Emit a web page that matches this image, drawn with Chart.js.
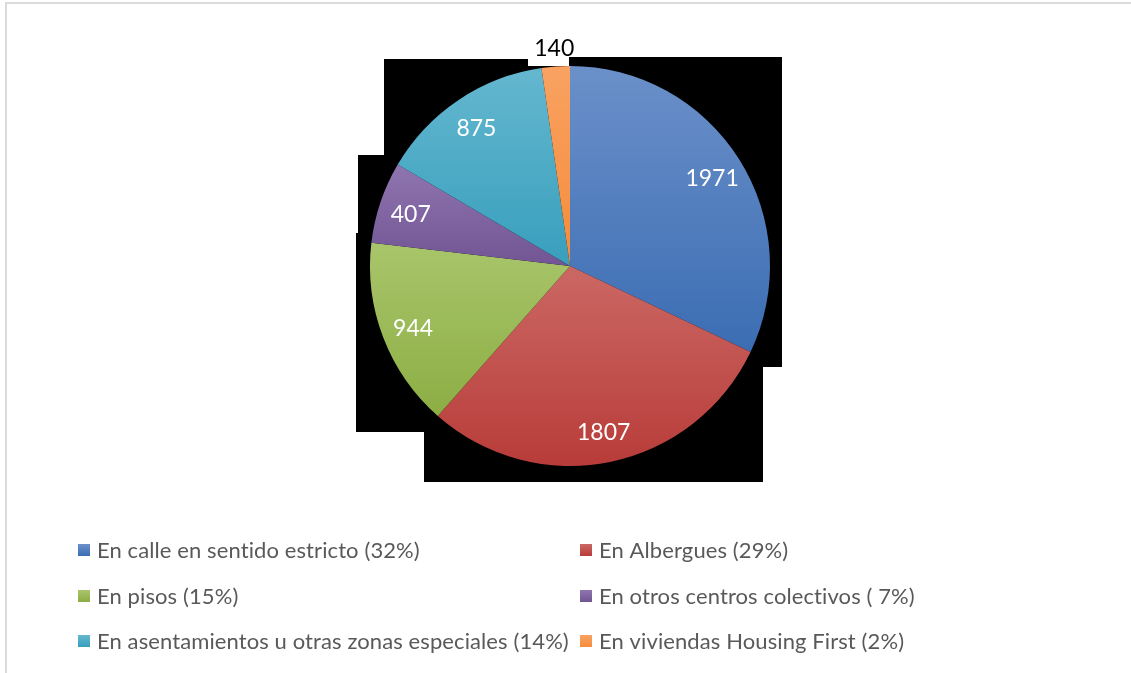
<!DOCTYPE html>
<html>
<head>
<meta charset="utf-8">
<style>
html,body{margin:0;padding:0;background:#fff;}
#wrap{position:relative;width:1131px;height:673px;overflow:hidden;}
#frame{position:absolute;left:5px;top:2px;right:-10px;bottom:-10px;border-left:2px solid #dadada;border-top:2px solid #dadada;}
canvas{position:absolute;left:0;top:0;}
</style>
<script src="https://cdn.jsdelivr.net/npm/chart.js@4.4.1/dist/chart.umd.min.js"></script>
</head>
<body>
<div id="wrap"><div id="frame"></div><canvas id="c" width="1131" height="673"></canvas></div>
<script>
// ---- data ----
const categories = [
  "En calle en sentido estricto (32%)",
  "En Albergues (29%)",
  "En pisos (15%)",
  "En otros centros colectivos ( 7%)",
  "En asentamientos u otras zonas especiales (14%)",
  "En viviendas Housing First (2%)"
];
const values = [1971, 1807, 944, 407, 875, 140];

// ---- styles ----
const colorsTop    = ["#6b90c9", "#cb6864", "#a9c56b", "#8f75b0", "#64b7cf", "#f9a262"];
const colorsBottom = ["#3b6db3", "#b83c39", "#8cae44", "#715594", "#389fbd", "#f58c3a"];
const FONT = "Lato, 'Open Sans', sans-serif";

function sliceGradient(ctx2d, cx, cy, r, a0, a1, i) {
  const ys = [cy, cy + r * Math.sin(a0), cy + r * Math.sin(a1)];
  const norm = a => ((a % (2*Math.PI)) + 2*Math.PI) % (2*Math.PI);
  const inRange = (a) => { const s = norm(a0), span = a1 - a0; return norm(a - s) <= span; };
  if (inRange(-Math.PI/2)) ys.push(cy - r);
  if (inRange(Math.PI/2)) ys.push(cy + r);
  const y0 = Math.min(...ys), y1 = Math.max(...ys);
  const g = ctx2d.createLinearGradient(0, y0, 0, y1);
  g.addColorStop(0, colorsTop[i]);
  g.addColorStop(1, colorsBottom[i]);
  return g;
}

const shadowPlugin = {
  id: 'shadow',
  beforeDatasetsDraw(chart) {
    const a = chart.getDatasetMeta(0).data[0];
    if (!a) return;
    const {x, y, outerRadius: r} = a;
    const pts = [[-0.93,-1.035],[-0.21,-1.035],[-0.21,-1.0],[-0.005,-1.0],[-0.005,-1.045],[1.06,-1.045],
      [1.06,0.505],[0.965,0.505],[0.965,1.08],[-0.73,1.08],[-0.73,0.83],[-1.07,0.83],
      [-1.07,-0.165],[-1.06,-0.165],[-1.06,-0.555],[-0.93,-0.555]];
    const c = chart.ctx;
    c.save();
    c.fillStyle = '#000';
    c.beginPath();
    pts.forEach((p, k) => { const px = Math.round(x + p[0]*r), py = Math.round(y + p[1]*r); k ? c.lineTo(px, py) : c.moveTo(px, py); });
    c.closePath();
    c.fill();
    c.restore();
  }
};

const labelPlugin = {
  id: 'valueLabels',
  afterDatasetsDraw(chart) {
    const meta = chart.getDatasetMeta(0);
    const total = values.reduce((s, v) => s + v, 0);
    const c = chart.ctx;
    c.save();
    c.font = "23px " + FONT;
    c.textAlign = 'center';
    c.textBaseline = 'middle';
    meta.data.forEach((arc, i) => {
      const v = chart.data.datasets[0].data[i];
      const mid = (arc.startAngle + arc.endAngle) / 2;
      const outside = v / total < 0.04;
      const f = outside ? 1.1 : 0.84;
      c.fillStyle = outside ? '#000' : '#fff';
      c.fillText(String(v), arc.x + Math.cos(mid) * arc.outerRadius * f, arc.y + Math.sin(mid) * arc.outerRadius * f + 2);
    });
    c.restore();
  }
};

const legendPlugin = {
  id: 'gridLegend',
  afterDraw(chart) {
    const c = chart.ctx;
    const colX = [78, 580];
    const rowY = [550, 596, 641];
    const sq = 12;
    c.save();
    c.font = "22px " + FONT;
    if ('letterSpacing' in c) c.letterSpacing = '0.1px';
    c.textBaseline = 'middle';
    c.textAlign = 'left';
    chart.data.labels.forEach((lab, i) => {
      const x = colX[i % 2], y = rowY[Math.floor(i / 2)];
      const g = c.createLinearGradient(0, y - sq/2, 0, y + sq/2);
      g.addColorStop(0, colorsTop[i]);
      g.addColorStop(1, colorsBottom[i]);
      c.fillStyle = g;
      c.fillRect(x, Math.round(y - sq/2), sq, sq);
      c.fillStyle = '#595959';
      c.fillText(lab, x + 19, y + 1);
    });
    c.restore();
  }
};

new Chart(document.getElementById('c'), {
  type: 'pie',
  data: {
    labels: categories,
    datasets: [{
      data: values,
      borderWidth: 0,
      backgroundColor: (ctx) => {
        if (ctx.type !== 'data') return colorsTop[ctx.dataIndex || 0];
        const chart = ctx.chart, area = chart.chartArea;
        if (!area) return colorsTop[ctx.dataIndex];
        const cx = (area.left + area.right) / 2, cy = (area.top + area.bottom) / 2;
        const r = Math.min(area.right - area.left, area.bottom - area.top) / 2;
        const total = values.reduce((s, v) => s + v, 0);
        let cum = 0;
        for (let k = 0; k < ctx.dataIndex; k++) cum += values[k];
        const a0 = -Math.PI/2 + cum / total * 2 * Math.PI;
        const a1 = a0 + values[ctx.dataIndex] / total * 2 * Math.PI;
        return sliceGradient(chart.ctx, cx, cy, r, a0, a1, ctx.dataIndex);
      }
    }]
  },
  options: {
    responsive: false,
    devicePixelRatio: 1,
    animation: false,
    layout: { padding: { top: 66, bottom: 207, left: 9, right: 0 } },
    plugins: { legend: { display: false }, tooltip: { enabled: false } }
  },
  plugins: [shadowPlugin, labelPlugin, legendPlugin]
});
</script>
</body>
</html>
